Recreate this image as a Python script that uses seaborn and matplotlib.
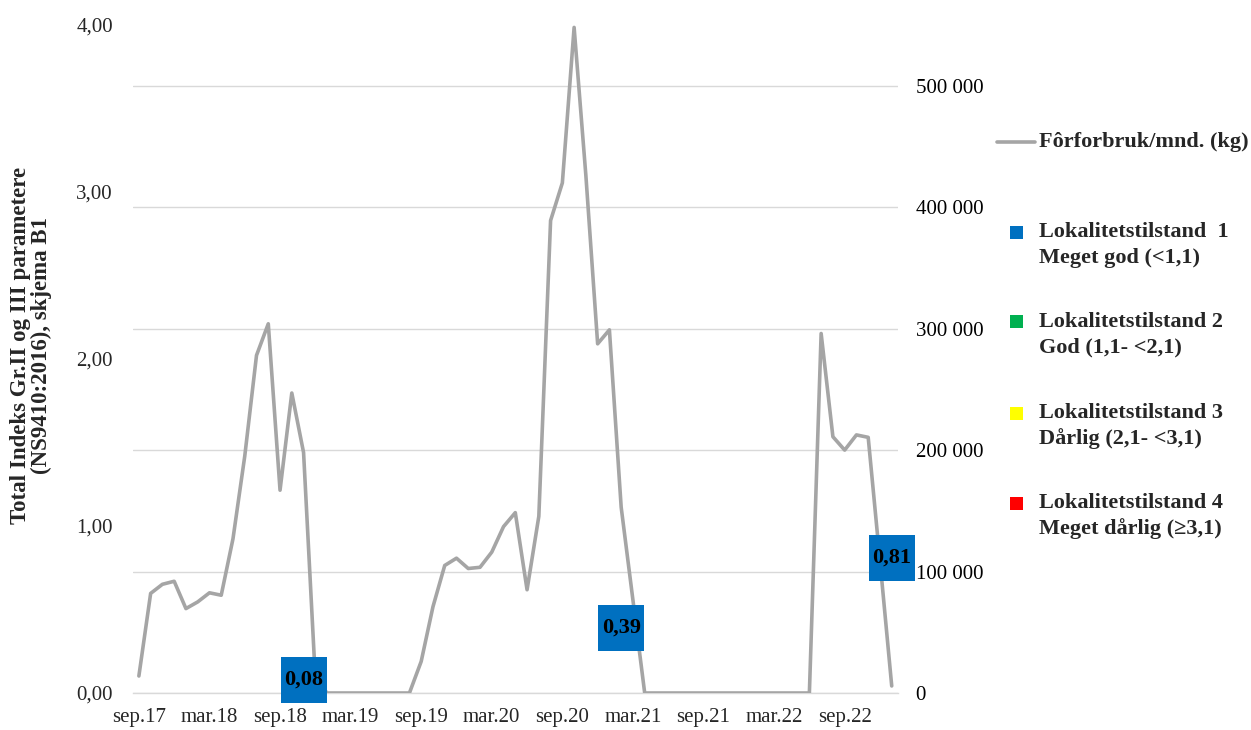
import matplotlib
matplotlib.use("Agg")
import matplotlib.pyplot as plt
import seaborn as sns
import pandas as pd
from matplotlib.patches import Rectangle
from matplotlib.lines import Line2D

# Monthly categories, Sep 2017 - Jan 2023
months = [d.strftime("%b.%y").lower() for d in pd.date_range("2017-09-01", periods=65, freq="MS")]
month_names_no = {"may": "mai", "oct": "okt", "dec": "des"}
months = [month_names_no.get(m[:3], m[:3]) + m[3:] for m in months]

tick_labels = ["sep.17", "mar.18", "sep.18", "mar.19", "sep.19", "mar.20",
               "sep.20", "mar.21", "sep.21", "mar.22", "sep.22"]

# Feed use per month (kg)
feed_kg = [
    14000, 82000, 89500, 92000, 69500, 75000, 82500, 80500,
    127000, 195000, 278000, 304000, 167000, 247000, 198000, 12000,
    0, 0, 0, 0, 0, 0, 0, 0,
    26000, 71000, 105000, 111000, 102500, 103500, 116000, 137000,
    148500, 85000, 145500, 389000, 420000, 548000, 426000, 287500,
    299000, 153000, 76500,
    0, 0, 0, 0, 0, 0, 0, 0, 0, 0, 0, 0, 0, 0, 0,
    296000, 211000, 200000, 212500, 210500, 109000, 5800,
]

# B1 survey results: month, total index, site condition class
index_months = ["nov.18", "feb.21", "jan.23"]
index_values = [0.08, 0.39, 0.81]
index_state = [1, 1, 1]

state_colors = ["#0070C0", "#00B050", "#FFFF00", "#FF0000"]
state_labels = [
    ("Lokalitetstilstand  1", "Meget god (<1,1)"),
    ("Lokalitetstilstand 2", "God (1,1- <2,1)"),
    ("Lokalitetstilstand 3", "Dårlig (2,1- <3,1)"),
    ("Lokalitetstilstand 4", "Meget dårlig (≥3,1)"),
]
line_label = "Fôrforbruk/mnd. (kg)"
ylabel_left = "Total Indeks Gr.II og III parametere\n(NS9410:2016), skjema B1"

sns.set_theme(style="white")
plt.rcParams["font.family"] = ["Liberation Serif", "DejaVu Serif"]

W, H = 1251, 730
fig = plt.figure(figsize=(W / 100, H / 100), dpi=100)


def fx(px):
    return px / W


def fy(py):
    return 1 - py / H


ax = fig.add_axes([fx(133), fy(693), (897.6 - 133) / W, (693 - 25) / H])

df = pd.DataFrame({"pos": range(len(months)), "month": months, "feed": feed_kg})
line_color = "#A5A5A5"
sns.lineplot(data=df, x="pos", y="feed", ax=ax, color=line_color, lw=2.6,
             legend=False, zorder=3)

ax.set_xlim(-0.5, len(months) - 0.5)
ax.set_ylim(0, 550000)
ax.set_xlabel("")
ax.set_ylabel("")

# Left axis: total index (twin sharing the month axis)
axi = ax.twinx()
axi.set_ylim(0, 4)
axi.yaxis.tick_left()
axi.yaxis.set_label_position("left")
axi.set_yticks([0, 1, 2, 3, 4])
axi.set_yticklabels([f"{v:.2f}".replace(".", ",") for v in [0, 1, 2, 3, 4]])
axi.tick_params(axis="y", which="both", length=0, pad=14.5, labelsize=15,
                left=True, right=False, labelleft=True, labelright=False)
for s in axi.spines.values():
    s.set_visible(False)
axi.grid(False)
axi.set_ylabel(ylabel_left, fontsize=16.5, fontweight="bold", linespacing=1.0)
axi.yaxis.set_label_coords(-0.106, 0.52)

# Right axis: feed
ax.yaxis.tick_right()
ax.tick_params(axis="y", left=False, labelleft=False, right=True, labelright=True)
yt = list(range(0, 550001, 100000))
ax.set_yticks(yt)
ax.set_yticklabels([f"{v:,.0f}".replace(",", " ") for v in yt])
ax.tick_params(axis="y", length=0, pad=13, labelsize=15, labelcolor="#000000")
ax.grid(axis="y", color="#D9D9D9", lw=1.0)
ax.grid(axis="x", visible=False)
for s in ["top", "left", "right"]:
    ax.spines[s].set_visible(False)
ax.spines["bottom"].set_color("#D9D9D9")
ax.spines["bottom"].set_linewidth(1.0)

# x axis: tick marks between categories, labels at category centres
tick_pos = [months.index(t) for t in tick_labels]
ax.set_xticks([p - 0.5 for p in tick_pos])
ax.set_xticklabels([""] * len(tick_pos))
ax.set_xticks(tick_pos, minor=True)
ax.set_xticklabels(tick_labels, minor=True)
ax.tick_params(axis="x", which="major", length=6, width=1, color="#D9D9D9", direction="out")
ax.tick_params(axis="x", which="minor", length=0, pad=11, labelsize=15)

# Index values as labelled boxes centred on each value
for m, v, st in zip(index_months, index_values, index_state):
    x = months.index(m)
    bw, bh = 3.9, 0.275
    axi.add_patch(Rectangle((x - bw / 2, v - bh / 2), bw, bh,
                            facecolor=state_colors[st - 1], edgecolor="none",
                            zorder=5, clip_on=False))
    axi.text(x, v, f"{v:.2f}".replace(".", ","), ha="center", va="center",
             fontsize=16, fontweight="bold", color="black", zorder=6)

# Legend
fig.add_artist(Line2D([fx(997), fx(1035)], [fy(142), fy(142)], color=line_color,
                      lw=2.6, transform=fig.transFigure))
fig.text(fx(1039), fy(142), line_label, ha="left", va="center",
         fontsize=16, fontweight="bold")
first_rows = [232, 322, 413, 503]
for (l1, l2), col, yy in zip(state_labels, state_colors, first_rows):
    fig.add_artist(Rectangle((fx(1010), fy(yy + 6.5)), 13 / W, 13 / H,
                             facecolor=col, edgecolor="none",
                             transform=fig.transFigure))
    fig.text(fx(1039), fy(yy), l1, ha="left", va="center", fontsize=16, fontweight="bold")
    fig.text(fx(1039), fy(yy + 25.5), l2, ha="left", va="center", fontsize=16, fontweight="bold")

fig.savefig("out.png", dpi=100)
